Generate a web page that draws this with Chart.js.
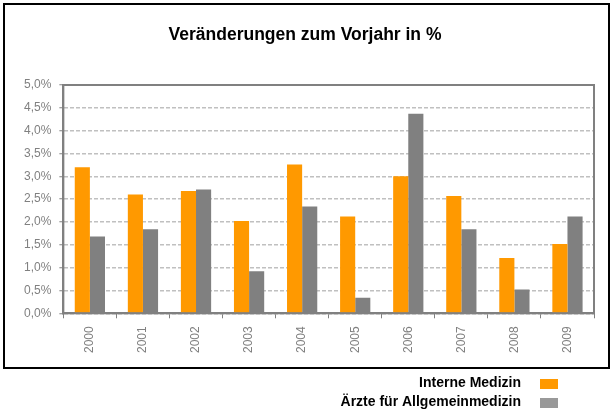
<!DOCTYPE html>
<html>
<head>
<meta charset="utf-8">
<script src="https://cdn.jsdelivr.net/npm/chart.js@4/dist/chart.umd.min.js"></script>
<style>
  html, body { margin: 0; padding: 0; background: #fff; }
  #wrap { width: 612px; height: 412px; }
</style>
</head>
<body>
<div id="wrap"><canvas id="bar-chart" width="612" height="412"></canvas></div>
<script>
var years = ["2000", "2001", "2002", "2003", "2004", "2005", "2006", "2007", "2008", "2009"];
var interneMedizin = [3.2, 2.6, 2.68, 2.02, 3.26, 2.12, 3.0, 2.57, 1.21, 1.52];
var allgemeinmedizin = [1.68, 1.84, 2.71, 0.92, 2.34, 0.34, 4.37, 1.84, 0.52, 2.12];
var yTicks = [0, 0.5, 1, 1.5, 2, 2.5, 3, 3.5, 4, 4.5, 5];

var legendSwatch = ["#ff9900", "#999999"];

var framePlugin = {
  id: "frame",
  beforeDraw: function(chart) {
    var ctx = chart.ctx;
    ctx.save();
    ctx.strokeStyle = "#000";
    ctx.lineWidth = 2;
    ctx.strokeRect(4, 4, 605, 364);
    ctx.restore();
  },
  afterDraw: function(chart) {
    var ctx = chart.ctx, a = chart.chartArea;
    ctx.save();
    ctx.strokeStyle = "#808080";
    ctx.lineWidth = 2;
    ctx.strokeRect(a.left, a.top, a.right - a.left, a.bottom - a.top);
    // legend below the frame, text right aligned, swatch on the right
    ctx.font = "bold 14px 'Liberation Sans', Arial, sans-serif";
    ctx.textAlign = "right";
    ctx.textBaseline = "middle";
    chart.data.datasets.forEach(function(ds, i) {
      var y = 383 + i * 19;
      ctx.fillStyle = "#000";
      ctx.fillText(ds.label, 521, y);
      ctx.fillStyle = legendSwatch[i];
      ctx.fillRect(540, y - 4, 18, 10);
    });
    ctx.restore();
  }
};

new Chart(document.getElementById("bar-chart"), {
  type: "bar",
  data: {
    labels: years,
    datasets: [
      { label: "Interne Medizin", backgroundColor: "#ff9900", data: interneMedizin },
      { label: "Ärzte für Allgemeinmedizin", backgroundColor: "#808080", data: allgemeinmedizin }
    ]
  },
  options: {
    responsive: false,
    animation: false,
    devicePixelRatio: 1,
    layout: { padding: { left: 16, right: 18, top: 14, bottom: 51 } },
    datasets: { bar: { categoryPercentage: 0.57, barPercentage: 1.0 } },
    plugins: {
      legend: { display: false },
      tooltip: { enabled: false },
      title: {
        display: true,
        text: "Veränderungen zum Vorjahr in %",
        color: "#000",
        font: { family: "'Liberation Sans', Arial, sans-serif", size: 17.5, weight: "bold" },
        padding: { top: 11, bottom: 39 }
      }
    },
    scales: {
      x: {
        grid: { offset: true, drawOnChartArea: false, tickLength: 5, tickColor: "#808080", tickWidth: 1 },
        border: { color: "#808080", width: 2 },
        ticks: {
          color: "#808080",
          minRotation: 90, maxRotation: 90,
          font: { family: "'Liberation Sans', Arial, sans-serif", size: 12 },
          padding: 8
        }
      },
      y: {
        min: 0, max: 5,
        afterBuildTicks: function(axis) {
          axis.ticks = yTicks.map(function(v) { return { value: v }; });
        },
        grid: { color: "#c0c0c0", lineWidth: 1.5, tickLength: 4, tickColor: "#808080", tickWidth: 1, tickBorderDash: [] },
        border: { color: "#808080", width: 2, dash: [4, 2] },
        ticks: {
          color: "#808080",
          padding: 8,
          font: { family: "'Liberation Sans', Arial, sans-serif", size: 12 },
          callback: function(v) { return v.toFixed(1).replace(".", ",") + "%"; }
        }
      }
    }
  },
  plugins: [framePlugin]
});
</script>
</body>
</html>
